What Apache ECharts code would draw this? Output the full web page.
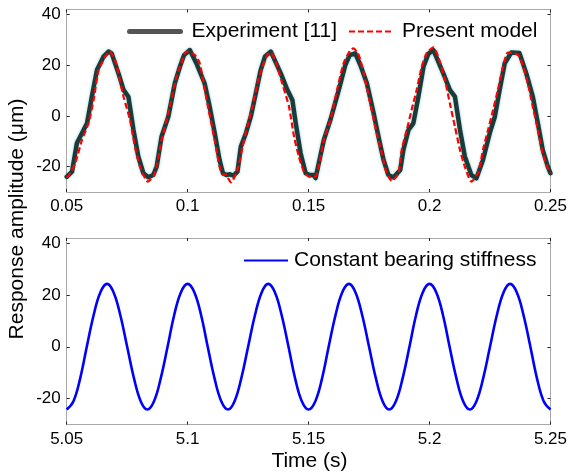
<!DOCTYPE html>
<html>
<head>
<meta charset="utf-8">
<script src="https://cdn.jsdelivr.net/npm/echarts@6/dist/echarts.min.js"></script>
<style>
  html, body { margin: 0; padding: 0; background: #fff; }
  #chart { width: 570px; height: 476px; }
</style>
</head>
<body>
<div id="chart"></div>
<script>
// Measured response, first 0.2 s: [time s, amplitude um]
const experiment = [
  [0.0500,-24.0],[0.0522,-22.0],[0.0542,-10.8],[0.0563,-6.8],[0.0584,-2.9],[0.0604,7.6],
  [0.0625,18.1],[0.0652,23.4],[0.0673,25.4],[0.0686,24.7],[0.0714,16.8],[0.0735,10.3],
  [0.0755,7.6],[0.0776,-5.5],[0.0796,-16.0],[0.0817,-22.6],[0.0837,-24.2],[0.0858,-23.3],
  [0.0872,-20.0],[0.0892,-8.2],[0.0920,-0.3],[0.0947,12.9],[0.0968,19.4],[0.0985,24.0],
  [0.1009,26.0],[0.1036,20.8],[0.1070,12.9],[0.1091,3.7],[0.1112,-6.8],[0.1132,-17.4],
  [0.1146,-22.6],[0.1160,-23.3],[0.1175,-23.0],[0.1190,-23.5],[0.1206,-22.0],[0.1220,-12.1],
  [0.1241,-6.8],[0.1261,-0.3],[0.1282,9.0],[0.1302,18.1],[0.1320,23.5],[0.1344,25.4],
  [0.1385,16.8],[0.1412,10.3],[0.1433,6.3],[0.1447,-2.9],[0.1467,-14.7],[0.1488,-22.6],
  [0.1505,-23.3],[0.1520,-23.3],[0.1529,-24.5],[0.1542,-18.7],[0.1563,-9.5],[0.1590,-1.6],
  [0.1625,10.3],[0.1652,20.1],[0.1670,24.0],[0.1693,24.7],[0.1714,20.1],[0.1741,12.9],
  [0.1769,1.1],[0.1789,-8.2],[0.1810,-17.4],[0.1830,-23.3],[0.1851,-24.3],[0.1879,-21.3],
  [0.1892,-13.4],[0.1913,-5.5],[0.1933,-2.9],[0.1954,7.6],[0.1975,19.4],[0.1995,24.5],
  [0.2016,26.0],[0.2057,16.8],[0.2084,10.3],[0.2105,7.6],[0.2126,-5.5],[0.2146,-16.0],
  [0.2173,-23.3],[0.2194,-24.6],[0.2221,-17.4],[0.2249,-6.8],[0.2270,-0.3],[0.2290,10.3],
  [0.2311,20.8],[0.2338,25.0],[0.2372,24.8],[0.2400,16.8],[0.2427,7.6],[0.2448,-2.9],
  [0.2468,-13.4],[0.2489,-20.0],[0.2500,-22.6]
];

// Simulated response with the present model
const presentModel = [
  [0.0500,-24.2],[0.0508,-23.6],[0.0535,-18.7],[0.0563,-9.5],[0.0590,-2.9],[0.0611,6.3],
  [0.0632,18.1],[0.0659,23.4],[0.0677,25.4],[0.0700,22.1],[0.0735,7.6],[0.0762,-1.6],
  [0.0782,-12.1],[0.0803,-20.0],[0.0835,-25.9],[0.0865,-22.6],[0.0892,-9.5],[0.0920,1.1],
  [0.0954,15.5],[0.0974,20.8],[0.0995,25.4],[0.1029,24.1],[0.1050,20.8],[0.1084,3.7],
  [0.1112,-9.5],[0.1132,-20.0],[0.1146,-23.3],[0.1155,-23.0],[0.1179,-26.2],[0.1206,-21.3],
  [0.1227,-12.1],[0.1247,-4.2],[0.1268,3.7],[0.1289,12.9],[0.1309,19.4],[0.1330,24.1],
  [0.1344,25.0],[0.1364,21.4],[0.1391,12.9],[0.1419,3.7],[0.1440,-8.2],[0.1460,-16.0],
  [0.1481,-22.0],[0.1501,-23.9],[0.1529,-23.9],[0.1542,-20.0],[0.1563,-9.5],[0.1590,-1.6],
  [0.1618,10.3],[0.1645,20.8],[0.1673,26.0],[0.1686,26.7],[0.1707,24.1],[0.1728,16.8],
  [0.1755,5.0],[0.1782,-6.8],[0.1803,-14.7],[0.1823,-22.6],[0.1844,-25.6],[0.1872,-22.6],
  [0.1885,-13.4],[0.1906,-5.5],[0.1926,2.4],[0.1947,10.3],[0.1968,19.4],[0.1988,24.7],
  [0.2016,27.1],[0.2036,23.4],[0.2064,14.2],[0.2084,5.0],[0.2105,-4.2],[0.2126,-13.4],
  [0.2146,-20.0],[0.2173,-25.9],[0.2201,-22.6],[0.2221,-13.4],[0.2242,-5.5],[0.2263,2.4],
  [0.2283,10.3],[0.2304,19.4],[0.2324,25.0],[0.2352,24.7],[0.2372,23.4],[0.2400,15.5],
  [0.2427,3.7],[0.2448,-5.5],[0.2468,-14.7],[0.2489,-20.6],[0.2500,-22.6]
];

// Steady response with constant bearing stiffness (5.05 s to 5.25 s)
const stiffTime = [
  5.0500,5.0528,5.0556,5.0583,5.0611,5.0639,5.0667,5.0694,5.0722,5.0750,5.0778,5.0806,
  5.0833,5.0861,5.0889,5.0917,5.0944,5.0972,5.1000,5.1028,5.1056,5.1083,5.1111,5.1139,
  5.1167,5.1194,5.1222,5.1250,5.1278,5.1306,5.1333,5.1361,5.1389,5.1417,5.1444,5.1472,
  5.1500,5.1528,5.1556,5.1583,5.1611,5.1639,5.1667,5.1694,5.1722,5.1750,5.1778,5.1806,
  5.1833,5.1861,5.1889,5.1917,5.1944,5.1972,5.2000,5.2028,5.2056,5.2083,5.2111,5.2139,
  5.2167,5.2194,5.2222,5.2250,5.2278,5.2306,5.2333,5.2361,5.2389,5.2417,5.2444,5.2472,
  5.2500
];
const stiffAmp = [
  -24.2,-21.0,-12.1,0,12.1,21.0,24.3,21.0,12.1,0,-12.1,-21.0,
  -24.2,-21.0,-12.1,0,12.1,21.0,24.3,21.0,12.1,0,-12.1,-21.0,
  -24.2,-21.0,-12.1,0,12.1,21.0,24.3,21.0,12.1,0,-12.1,-21.0,
  -24.2,-21.0,-12.1,0,12.1,21.0,24.3,21.0,12.1,0,-12.1,-21.0,
  -24.2,-21.0,-12.1,0,12.1,21.0,24.3,21.0,12.1,0,-12.1,-21.0,
  -24.2,-21.0,-12.1,0,12.1,21.0,24.3,21.0,12.1,0,-12.1,-21.0,
  -24.2
];

// Tick positions
const topTimeTicks = [0.05, 0.1, 0.15, 0.2, 0.25];
const bottomTimeTicks = [5.05, 5.1, 5.15, 5.2, 5.25];
const ampTicks = [-20, 0, 20, 40];

const FONT = "'Liberation Sans', Arial, sans-serif";
const frameColor = '#a9a9a9';
const tickColor = '#222';

function timeAxis(grid, ticks, min, max, pos, labels) {
  return {
    type: 'value', gridIndex: grid, position: pos, min: min, max: max,
    axisLine: { show: true, onZero: false, lineStyle: { color: frameColor, width: 1 } },
    axisTick: { show: true, inside: true, length: 3, customValues: ticks,
                lineStyle: { color: tickColor, width: 1 } },
    axisLabel: { show: labels, customValues: ticks, margin: 6, color: '#000',
                 fontFamily: FONT, fontSize: 17,
                 formatter: v => String(+(+v).toFixed(2)) },
    splitLine: { show: false }
  };
}
function ampAxis(grid, pos, labels) {
  return {
    type: 'value', gridIndex: grid, position: pos, min: -30, max: 42,
    axisLine: { show: true, onZero: false, lineStyle: { color: frameColor, width: 1 } },
    axisTick: { show: true, inside: true, length: 3, customValues: ampTicks,
                lineStyle: { color: tickColor, width: 1 } },
    axisLabel: { show: labels, customValues: ampTicks, margin: 6, color: '#000',
                 fontFamily: FONT, fontSize: 17 },
    splitLine: { show: false }
  };
}

const legendText = { fontFamily: FONT, fontSize: 21, color: '#000' };

const chart = echarts.init(document.getElementById('chart'), null, { renderer: 'canvas' });

chart.setOption({
  backgroundColor: '#fff',
  animation: false,
  grid: [
    { left: 66.7, right: 17.3, top: 9.5, height: 182.5 },
    { left: 66.7, right: 17.3, top: 238, height: 186.5 }
  ],
  xAxis: [
    timeAxis(0, topTimeTicks, 0.05, 0.25, 'bottom', true),
    timeAxis(0, topTimeTicks, 0.05, 0.25, 'top', false),
    timeAxis(1, bottomTimeTicks, 5.05, 5.25, 'bottom', true),
    timeAxis(1, bottomTimeTicks, 5.05, 5.25, 'top', false)
  ],
  yAxis: [
    ampAxis(0, 'left', true),
    ampAxis(0, 'right', false),
    ampAxis(1, 'left', true),
    ampAxis(1, 'right', false)
  ],
  legend: [
    {
      data: [{ name: 'Experiment [11]', lineStyle: { color: '#555', width: 5, shadowBlur: 0 } }],
      left: 127, top: 21, itemWidth: 51, itemHeight: 14, padding: 0,
      itemStyle: { opacity: 0 },
      textStyle: Object.assign({ padding: [0, 0, 0, 6] }, legendText)
    },
    {
      data: ['Present model'],
      left: 348, top: 21, itemWidth: 45, itemHeight: 14, padding: 0,
      itemStyle: { opacity: 0 },
      textStyle: Object.assign({ padding: [0, 0, 0, 3] }, legendText)
    },
    {
      data: ['Constant bearing stiffness'],
      left: 243, top: 250, itemWidth: 44, itemHeight: 14, padding: 0,
      itemStyle: { opacity: 0 },
      textStyle: Object.assign({ padding: [0, 0, 0, 1] }, legendText)
    }
  ],
  series: [
    {
      name: 'Experiment [11]', type: 'line', xAxisIndex: 0, yAxisIndex: 0,
      data: experiment, symbol: 'none', smooth: false, z: 2,
      lineStyle: { color: '#1b3b3b', width: 4.5, join: 'round', cap: 'round',
                   shadowBlur: 3, shadowColor: 'rgba(40,160,160,0.5)' }
    },
    {
      name: 'Present model', type: 'line', xAxisIndex: 0, yAxisIndex: 0,
      data: presentModel, symbol: 'none', smooth: 0.2, z: 3,
      lineStyle: { color: '#ff0000', width: 2.2, type: [6, 3] }
    },
    {
      name: 'Constant bearing stiffness', type: 'line', xAxisIndex: 2, yAxisIndex: 2,
      data: stiffTime.map((t, i) => [t, stiffAmp[i]]), symbol: 'none', smooth: 0.4, z: 3,
      lineStyle: { color: '#0000ff', width: 2.6 }
    }
  ],
  graphic: [
    {
      type: 'text', x: 17, y: 219, rotation: Math.PI / 2,
      style: { text: 'Response amplitude (\u03bcm)', font: '21px ' + FONT, fill: '#000',
               textAlign: 'center', textVerticalAlign: 'middle' }
    },
    {
      type: 'text', x: 309.5, y: 461,
      style: { text: 'Time (s)', font: '21px ' + FONT, fill: '#000',
               textAlign: 'center', textVerticalAlign: 'middle' }
    }
  ]
});
</script>
</body>
</html>
